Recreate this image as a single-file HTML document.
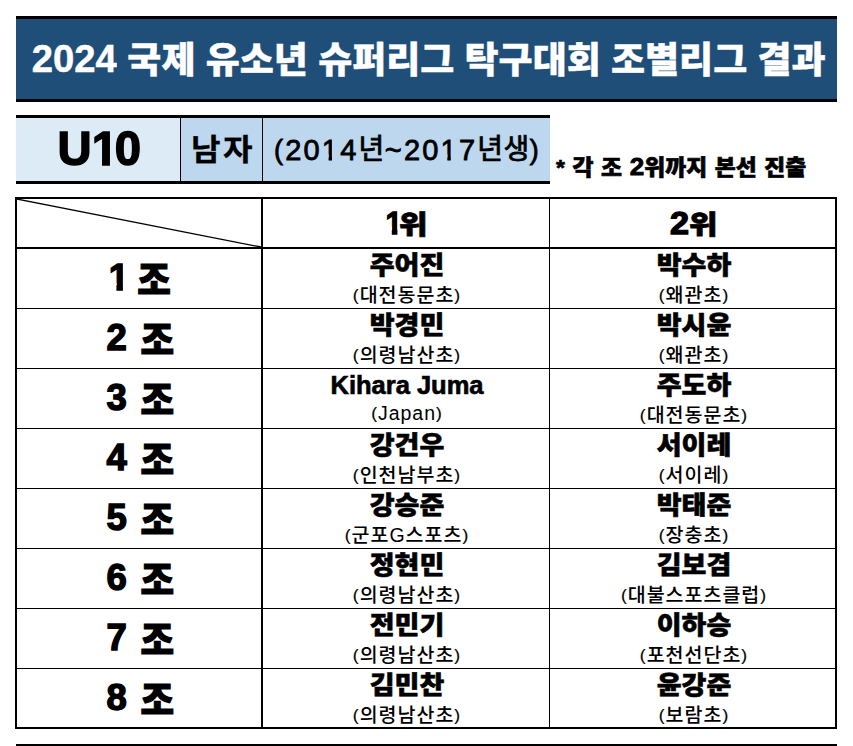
<!DOCTYPE html>
<html lang="ko">
<head>
<meta charset="utf-8">
<title>2024 국제 유소년 슈퍼리그 탁구대회 조별리그 결과</title>
<style>
html,body{margin:0;padding:0;background:#fff;}
body{width:853px;height:746px;position:relative;overflow:hidden;
  font-family:"Liberation Sans","Noto Sans CJK KR",sans-serif;color:#000;}
.abs{position:absolute;}
.c{display:flex;align-items:center;justify-content:center;white-space:nowrap;}
.ib{display:inline-block;}
/* digit one without the foot serif (Arial-like) */
.one{display:inline-block;line-height:1;--h:0.6px;--l:0.235em;--r:0.37em;--t:0.64em;clip-path:polygon(0 0,calc(var(--r) + var(--h)) 0,calc(var(--r) + var(--h)) 100%,calc(var(--l) - var(--h)) 100%,calc(var(--l) - var(--h)) calc(var(--t) - var(--h)),0 calc(var(--t) - var(--h)));}
/* banner */
#banner{left:16px;top:16px;width:821px;height:80px;border-top:3px solid #000;border-bottom:3px solid #000;background:#1f4e79;}
#title{left:17px;top:18px;width:821px;height:80px;color:#fff;font-weight:900;font-size:37px;-webkit-text-stroke:0.4px #fff;}
#title .t{display:inline-block;transform:scaleY(0.97);transform-origin:50% 30%;}
#title .d{font-family:"Liberation Sans",sans-serif;font-weight:700;font-size:39.4px;-webkit-text-stroke:0.5px #fff;position:relative;top:-1.8px;display:inline-block;transform:scaleX(0.97) scaleY(1.03);transform-origin:100% 50%;}
/* row2 */
#r2{left:16px;top:115px;width:534px;height:63px;border-top:3px solid #000;border-bottom:3px solid #000;background:#bdd7ee;}
#r2a{left:16px;top:118px;width:165px;height:63px;background:#ddebf7;}
.vl{background:#000;}
#u10{left:16.5px;top:116.5px;width:165px;height:63px;font-weight:700;font-size:49px;-webkit-text-stroke:1.5px #000;}
#u10>span{display:inline-block;transform:scaleX(0.965);}
#u10 .one{margin-right:-3.3px;--h:0.8px;}
#nam{left:183px;top:115px;width:81px;height:63px;font-weight:700;font-size:30px;letter-spacing:2.5px;-webkit-text-stroke:0.3px #000;}
#nam span{display:inline-block;transform:scaleX(1.07);}
#yr{left:264px;top:116px;width:287px;height:63px;font-weight:400;font-size:29px;letter-spacing:2.2px;-webkit-text-stroke:0.8px #000;}
#yr .h{font-size:28px;letter-spacing:0.5px;position:relative;top:-0.5px;}
#yr .p{font-size:27px;position:relative;top:-0.6px;}
#yr .one{--h:0.45px;--l:0.25em;--r:0.335em;--t:0.66em;}
#note{left:556px;top:148.5px;height:34px;font-weight:900;font-size:22.8px;word-spacing:1.3px;-webkit-text-stroke:0.7px #000;}
#note .t{display:inline-block;transform:scaleY(0.95);}
#note .d{font-size:26px;font-weight:700;-webkit-text-stroke:0.9px #000;}
/* table */
#tb{left:15px;top:197px;width:818px;height:528px;border:2px solid #000;}
.hl{left:17px;width:818px;height:1px;background:#000;}
.hd{font-weight:900;font-size:28px;-webkit-text-stroke:0.8px #000;}
.hd .d{font-size:30.5px;font-weight:700;-webkit-text-stroke:1.3px #000;position:relative;top:-1.2px;}
.hd b{display:inline-block;font-weight:900;transform:scale(1.11,0.95);transform-origin:0 50%;margin-right:3px;}
.hd .one{margin-right:-3.5px;margin-left:-1px;--h:0.7px;}
.hd .w{display:inline-block;transform:scaleX(1.12);transform-origin:100% 50%;margin-left:2px;}
.g{left:18.4px;width:244px;height:59px;font-weight:900;font-size:36.5px;-webkit-text-stroke:1.1px #000;word-spacing:3.5px;}
.g b{display:inline-block;font-weight:900;transform:scaleY(1.05);}
.g .d{font-weight:700;font-size:36.5px;-webkit-text-stroke:1.4px #000;position:relative;top:-2.8px;}
.g .one{margin-right:-5.5px;margin-left:-1.4px;--h:0.75px;}
.n{font-weight:900;font-size:27px;height:30px;-webkit-text-stroke:0.65px #000;}
.n span{display:inline-block;transform:scaleY(0.94);}
.n.en{font-weight:700;font-size:25.5px;}
.n.en span{transform:none;position:relative;top:2px;}
.s{font-weight:500;font-size:19.5px;height:24px;letter-spacing:1px;}
.s i{font-style:normal;font-size:17.4px;position:relative;top:-1px;-webkit-text-stroke:0.2px #000;}
.c1{left:264px;width:286px;}
.c2{left:551.5px;width:285px;}
</style>
</head>
<body>
<div class="abs" id="banner"></div>
<div class="abs c" id="title"><span class="t"><span class="d">2024</span> 국제 유소년 슈퍼리그 탁구대회 조별리그 결과</span></div>
<div class="abs" id="r2"></div>
<div class="abs" id="r2a"></div>
<div class="abs vl" style="left:180px;top:118px;width:1px;height:63px"></div>
<div class="abs vl" style="left:262px;top:118px;width:1px;height:63px"></div>
<div class="abs c" id="u10"><span>U<span class="one">1</span>0</span></div>
<div class="abs c" id="nam"><span>남자</span></div>
<div class="abs c" id="yr"><span><span class="p">(</span>20<span class="one">1</span>4<span class="h">년</span>~20<span class="one">1</span>7<span class="h">년생</span><span class="p">)</span></span></div>
<div class="abs c" id="note"><span class="t">* 각 조 <span class="d">2</span>위까지 본선 진출</span></div>
<div class="abs" id="tb"></div>
<svg class="abs" style="left:17px;top:199px" width="244" height="48" viewBox="0 0 244 48"><line x1="0" y1="0" x2="244" y2="48" stroke="#000" stroke-width="1.25"/></svg>
<div class="abs vl" style="left:261px;top:199px;width:2px;height:528px"></div>
<div class="abs vl" style="left:549px;top:199px;width:1px;height:528px"></div>
<div class="abs vl" style="left:17px;top:247px;width:818px;height:2px"></div>
<div class="abs hl" style="top:308px"></div>
<div class="abs hl" style="top:368px"></div>
<div class="abs hl" style="top:428px"></div>
<div class="abs hl" style="top:488px"></div>
<div class="abs hl" style="top:548px"></div>
<div class="abs hl" style="top:608px"></div>
<div class="abs hl" style="top:668px"></div>
<div class="abs c hd c1" style="top:199px;height:48px"><span><span class="d"><span class="one">1</span></span><b>위</b></span></div>
<div class="abs c hd c2" style="top:199px;height:48px"><span><span class="d w">2</span><b>위</b></span></div>
<div class="abs c g" style="top:248.2px"><span><span class="d"><span class="one">1</span></span> <b>조</b></span></div>
<div class="abs c n c1" style="top:248.3px"><span>주어진</span></div>
<div class="abs c s c1" style="top:281.7px"><span><i>(</i>대전동문초<i>)</i></span></div>
<div class="abs c n c2" style="top:248.3px"><span>박수하</span></div>
<div class="abs c s c2" style="top:281.7px"><span><i>(</i>왜관초<i>)</i></span></div>
<div class="abs c g" style="top:308.2px"><span><span class="d">2</span> <b>조</b></span></div>
<div class="abs c n c1" style="top:308.3px"><span>박경민</span></div>
<div class="abs c s c1" style="top:341.7px"><span><i>(</i>의령남산초<i>)</i></span></div>
<div class="abs c n c2" style="top:308.3px"><span>박시윤</span></div>
<div class="abs c s c2" style="top:341.7px"><span><i>(</i>왜관초<i>)</i></span></div>
<div class="abs c g" style="top:368.2px"><span><span class="d">3</span> <b>조</b></span></div>
<div class="abs c n en c1" style="top:368.3px"><span>Kihara Juma</span></div>
<div class="abs c s c1" style="top:401.7px"><span><i>(</i>Japan<i>)</i></span></div>
<div class="abs c n c2" style="top:368.3px"><span>주도하</span></div>
<div class="abs c s c2" style="top:401.7px"><span><i>(</i>대전동문초<i>)</i></span></div>
<div class="abs c g" style="top:428.2px"><span><span class="d">4</span> <b>조</b></span></div>
<div class="abs c n c1" style="top:428.3px"><span>강건우</span></div>
<div class="abs c s c1" style="top:461.7px"><span><i>(</i>인천남부초<i>)</i></span></div>
<div class="abs c n c2" style="top:428.3px"><span>서이레</span></div>
<div class="abs c s c2" style="top:461.7px"><span><i>(</i>서이레<i>)</i></span></div>
<div class="abs c g" style="top:488.2px"><span><span class="d">5</span> <b>조</b></span></div>
<div class="abs c n c1" style="top:488.3px"><span>강승준</span></div>
<div class="abs c s c1" style="top:521.7px"><span><i>(</i>군포G스포츠<i>)</i></span></div>
<div class="abs c n c2" style="top:488.3px"><span>박태준</span></div>
<div class="abs c s c2" style="top:521.7px"><span><i>(</i>장충초<i>)</i></span></div>
<div class="abs c g" style="top:548.2px"><span><span class="d">6</span> <b>조</b></span></div>
<div class="abs c n c1" style="top:548.3px"><span>정현민</span></div>
<div class="abs c s c1" style="top:581.7px"><span><i>(</i>의령남산초<i>)</i></span></div>
<div class="abs c n c2" style="top:548.3px"><span>김보겸</span></div>
<div class="abs c s c2" style="top:581.7px"><span><i>(</i>대불스포츠클럽<i>)</i></span></div>
<div class="abs c g" style="top:608.2px"><span><span class="d">7</span> <b>조</b></span></div>
<div class="abs c n c1" style="top:608.3px"><span>전민기</span></div>
<div class="abs c s c1" style="top:641.7px"><span><i>(</i>의령남산초<i>)</i></span></div>
<div class="abs c n c2" style="top:608.3px"><span>이하승</span></div>
<div class="abs c s c2" style="top:641.7px"><span><i>(</i>포천선단초<i>)</i></span></div>
<div class="abs c g" style="top:668.2px"><span><span class="d">8</span> <b>조</b></span></div>
<div class="abs c n c1" style="top:668.3px"><span>김민찬</span></div>
<div class="abs c s c1" style="top:701.7px"><span><i>(</i>의령남산초<i>)</i></span></div>
<div class="abs c n c2" style="top:668.3px"><span>윤강준</span></div>
<div class="abs c s c2" style="top:701.7px"><span><i>(</i>보람초<i>)</i></span></div>
<div class="abs vl" style="left:16px;top:744px;width:821px;height:3px"></div>
</body>
</html>
